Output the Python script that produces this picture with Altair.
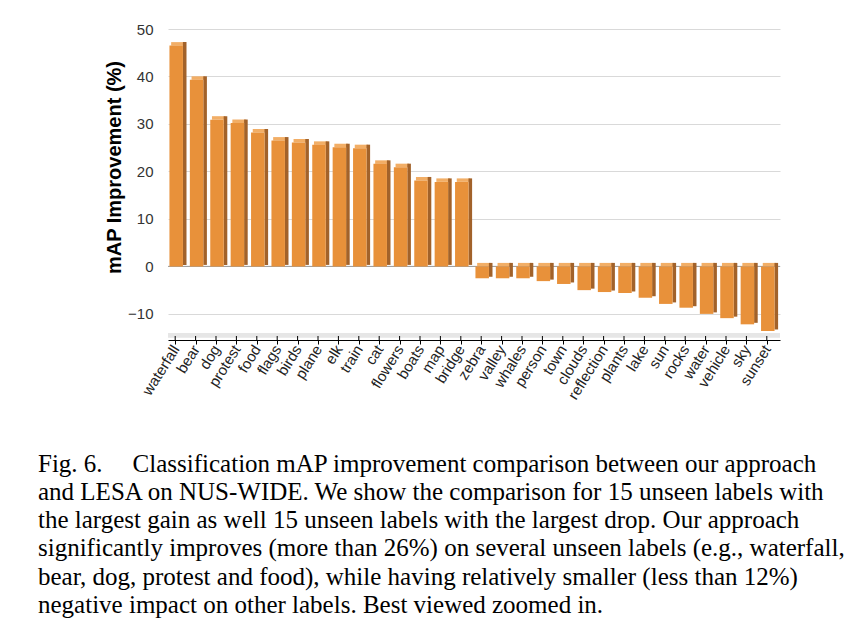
import altair as alt
import pandas as pd

labels = ["waterfall", "bear", "dog", "protest", "food", "flags", "birds", "plane",
          "elk", "train", "cat", "flowers", "boats", "map", "bridge", "zebra",
          "valley", "whales", "person", "town", "clouds", "reflection", "plants",
          "lake", "sun", "rocks", "water", "vehicle", "sky", "sunset"]
improvement = [46.5, 39.3, 30.9, 30.2, 28.2, 26.5, 26.1, 25.6, 25.1, 24.9, 21.6, 20.9,
               18.1, 17.8, 17.8, -2.5, -2.5, -2.5, -3.1, -3.7, -5.0, -5.4, -5.6, -6.6,
               -7.9, -8.7, -10.0, -10.9, -12.2, -13.6]
y_ticks = [-10, 0, 10, 20, 30, 40, 50]
y_domain = [-15.5, 50]
caption = [
    "Fig. 6.\u2003\u2009Classification mAP improvement comparison between our approach",
    "and LESA on NUS-WIDE. We show the comparison for 15 unseen labels with",
    "the largest gain as well 15 unseen labels with the largest drop. Our approach",
    "significantly improves (more than 26%) on several unseen labels (e.g., waterfall,",
    "bear, dog, protest and food), while having relatively smaller (less than 12%)",
    "negative impact on other labels. Best viewed zoomed in.",
]

df = pd.DataFrame({"label": labels, "value": improvement})
df["top"] = df["value"].clip(lower=0)
df["bot"] = df["value"].clip(upper=0)

FRONT = "#E8913A"
SIDE = "#A2622A"
TOPC = "#F2AE66"

xenc = alt.X("label:N", sort=labels,
             scale=alt.Scale(paddingInner=0, paddingOuter=0),
             axis=alt.Axis(title=None, labelAngle=302, labelFontSize=15,
                           labelFont="Liberation Sans", labelColor="#222",
                           domainColor="black", tickColor="black", tickSize=4,
                           tickOffset=-3, labelPadding=2, grid=False))
yscale = alt.Scale(domain=y_domain, nice=False, zero=False)

base = alt.Chart(df)

grid = base.mark_bar().encode(
    x=xenc,
    y=alt.Y("top:Q", scale=yscale,
            axis=alt.Axis(values=y_ticks, grid=True, gridColor="#d9d9d9",
                          domain=False, ticks=False, labelFontSize=15,
                          labelFont="Liberation Sans", labelColor="#333",
                          labelPadding=15, title="mAP Improvement (%)",
                          titleFont="Liberation Sans", titleFontSize=20,
                          titleFontWeight="bold", titleColor="black",
                          titleX=-54, titleY=138, titleAngle=270,
                          titleAlign="center", titleBaseline="middle")),
    opacity=alt.value(0),
)

floor = alt.Chart(pd.DataFrame({"a": [-15.0], "b": [-14.0]})).mark_rect(color="#e6e6e6").encode(
    y=alt.Y("a:Q", scale=yscale), y2="b:Q",
    x=alt.value(0), x2=alt.value(612))

zero = alt.Chart(pd.DataFrame({"z": [0]})).mark_rule(color="#9a9a9a", strokeWidth=1).encode(
    y=alt.Y("z:Q", scale=yscale), x=alt.value(0), x2=alt.value(612))

topface = base.mark_bar(size=13.5, xOffset=-0.3, yOffset=-3.5, y2Offset=0, color=TOPC).encode(
    x=xenc, y=alt.Y("top:Q", scale=yscale), y2=alt.Y2("top:Q"))

side = base.mark_bar(size=3.6, xOffset=6.5, yOffset=-3.5, y2Offset=-1.5, color=SIDE).encode(
    x=xenc, y=alt.Y("top:Q", scale=yscale), y2=alt.Y2("bot:Q"))

front = base.mark_bar(size=13.5, xOffset=-2, color=FRONT).encode(
    x=xenc, y=alt.Y("top:Q", scale=yscale), y2=alt.Y2("bot:Q"))

upticks = base.mark_rule(color="black", xOffset=-3, y2Offset=-4).encode(
    x=xenc, y=alt.Y("lo:Q", scale=yscale), y2=alt.Y2("lo:Q")
).transform_calculate(lo=str(y_domain[0]))

chart = alt.layer(grid, floor, zero, topface, side, front, upticks).properties(
    width=612, height=311,
    background="white",
    autosize=alt.AutoSizeParams(type="none"),
    padding={"left": 160, "top": 21, "right": 75, "bottom": 282},
    title=alt.TitleParams(text=caption, orient="bottom", anchor="start", frame="group",
                          font="Liberation Serif", fontSize=25, fontWeight="normal",
                          color="black", lineHeight=28.2, dx=-130, offset=50),
).configure_view(stroke=None, strokeWidth=0)

chart.save("out.html", embed_options={"renderer": "svg", "actions": False})
